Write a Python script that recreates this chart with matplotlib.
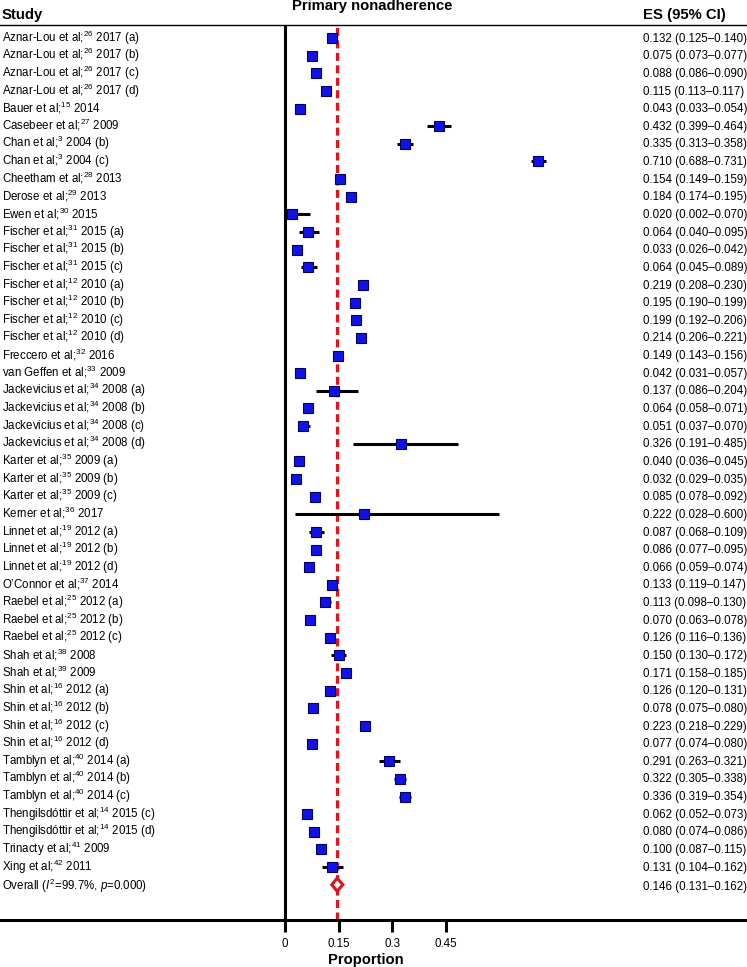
import matplotlib
matplotlib.use("Agg")
import matplotlib.pyplot as plt
import matplotlib.transforms as mtrans
from matplotlib.patches import Polygon

plt.rcParams["font.family"] = ["Liberation Sans", "DejaVu Sans"]
plt.rcParams["mathtext.fontset"] = "custom"
plt.rcParams["mathtext.rm"] = "Liberation Sans"
plt.rcParams["mathtext.it"] = "Liberation Sans:italic"
plt.rcParams["mathtext.bf"] = "Liberation Sans:bold"

# ---------------- data ----------------
authors = [
    "Aznar-Lou et al", "Aznar-Lou et al", "Aznar-Lou et al", "Aznar-Lou et al",
    "Bauer et al", "Casebeer et al", "Chan et al", "Chan et al",
    "Cheetham et al", "Derose et al", "Ewen et al",
    "Fischer et al", "Fischer et al", "Fischer et al",
    "Fischer et al", "Fischer et al", "Fischer et al", "Fischer et al",
    "Freccero et al", "van Geffen et al",
    "Jackevicius et al", "Jackevicius et al", "Jackevicius et al", "Jackevicius et al",
    "Karter et al", "Karter et al", "Karter et al", "Kerner et al",
    "Linnet et al", "Linnet et al", "Linnet et al", "O\u2019Connor et al",
    "Raebel et al", "Raebel et al", "Raebel et al",
    "Shah et al", "Shah et al",
    "Shin et al", "Shin et al", "Shin et al", "Shin et al",
    "Tamblyn et al", "Tamblyn et al", "Tamblyn et al",
    "Thengilsd\u00f3ttir et al", "Thengilsd\u00f3ttir et al",
    "Trinacty et al", "Xing et al",
]
refs = [26, 26, 26, 26, 15, 27, 3, 3, 28, 29, 30, 31, 31, 31, 12, 12, 12, 12,
        32, 33, 34, 34, 34, 34, 35, 35, 35, 36, 19, 19, 19, 37, 25, 25, 25,
        38, 39, 16, 16, 16, 16, 40, 40, 40, 14, 14, 41, 42]
years = [
    "2017 (a)", "2017 (b)", "2017 (c)", "2017 (d)", "2014", "2009",
    "2004 (b)", "2004 (c)", "2013", "2013", "2015",
    "2015 (a)", "2015 (b)", "2015 (c)",
    "2010 (a)", "2010 (b)", "2010 (c)", "2010 (d)",
    "2016", "2009", "2008 (a)", "2008 (b)", "2008 (c)", "2008 (d)",
    "2009 (a)", "2009 (b)", "2009 (c)", "2017",
    "2012 (a)", "2012 (b)", "2012 (d)", "2014",
    "2012 (a)", "2012 (b)", "2012 (c)", "2008", "2009",
    "2012 (a)", "2012 (b)", "2012 (c)", "2012 (d)",
    "2014 (a)", "2014 (b)", "2014 (c)", "2015 (c)", "2015 (d)", "2009", "2011",
]
es = [0.132, 0.075, 0.088, 0.115, 0.043, 0.432, 0.335, 0.710, 0.154, 0.184,
      0.020, 0.064, 0.033, 0.064, 0.219, 0.195, 0.199, 0.214, 0.149, 0.042,
      0.137, 0.064, 0.051, 0.326, 0.040, 0.032, 0.085, 0.222, 0.087, 0.086,
      0.066, 0.133, 0.113, 0.070, 0.126, 0.150, 0.171, 0.126, 0.078, 0.223,
      0.077, 0.291, 0.322, 0.336, 0.062, 0.080, 0.100, 0.131]
lo = [0.125, 0.073, 0.086, 0.113, 0.033, 0.399, 0.313, 0.688, 0.149, 0.174,
      0.002, 0.040, 0.026, 0.045, 0.208, 0.190, 0.192, 0.206, 0.143, 0.031,
      0.086, 0.058, 0.037, 0.191, 0.036, 0.029, 0.078, 0.028, 0.068, 0.077,
      0.059, 0.119, 0.098, 0.063, 0.116, 0.130, 0.158, 0.120, 0.075, 0.218,
      0.074, 0.263, 0.305, 0.319, 0.052, 0.074, 0.087, 0.104]
hi = [0.140, 0.077, 0.090, 0.117, 0.054, 0.464, 0.358, 0.731, 0.159, 0.195,
      0.070, 0.095, 0.042, 0.089, 0.230, 0.199, 0.206, 0.221, 0.156, 0.057,
      0.204, 0.071, 0.070, 0.485, 0.045, 0.035, 0.092, 0.600, 0.109, 0.095,
      0.074, 0.147, 0.130, 0.078, 0.136, 0.172, 0.185, 0.131, 0.080, 0.229,
      0.080, 0.321, 0.338, 0.354, 0.073, 0.086, 0.115, 0.162]
overall_es, overall_lo, overall_hi = 0.146, 0.131, 0.162
overall_label = r"Overall ($\mathit{I}^{\mathregular{2}}$=99.7%, $\mathit{p}$=0.000)"
xticks = [0, 0.15, 0.3, 0.45]
xticklabels = ["0", "0.15", "0.3", "0.45"]

# ---------------- layout ----------------
W, H = 747, 967
fig = plt.figure(figsize=(W / 100, H / 100), dpi=100)
top_px, bot_px = 25, 920
ax = fig.add_axes([0, 1 - bot_px / H, 1, (bot_px - top_px) / H])
x0px, ppu = 285, 357.0
xmin, xmax = -x0px / ppu, (W - x0px) / ppu
ax.set_xlim(xmin, xmax)
row0, dy = 38.0, 17.64
ax.set_ylim((bot_px - row0) / dy, (top_px - row0) / dy)

for s in ["left", "right"]:
    ax.spines[s].set_visible(False)
ax.spines["top"].set_linewidth(1.0)
ax.spines["bottom"].set_linewidth(2.2)
ax.set_yticks([])
ax.set_xticks(xticks)
ax.set_xticklabels(xticklabels, fontsize=8.3)
ax.tick_params(axis="x", direction="out", length=8.5, width=2.2, pad=4.5)
ax.set_xlabel("Proportion", fontsize=10.7, fontweight="bold")
ax.xaxis.set_label_coords((0.225 - xmin) / (xmax - xmin), -0.037)

ax.axvline(0, color="black", lw=2.2, zorder=3)
ax.axvline(overall_es, color="#e3131b", lw=2.3, dashes=(2.5, 1.4), zorder=2)

n = len(es)
ys = list(range(n))
ax.hlines(ys, lo, hi, color="black", lw=2.2, zorder=4)
ax.plot(es, ys, "s", ms=6.7, mfc="#1212e8", mec="#000060", mew=0.8, zorder=5,
        linestyle="none")

h = 0.37
diamond = Polygon([(overall_lo, n), (overall_es, n - h), (overall_hi, n),
                   (overall_es, n + h)], closed=True, facecolor="white",
                  edgecolor="#e3131b", lw=2.2, zorder=6)
ax.add_patch(diamond)

# ---------------- texts ----------------
tr = mtrans.blended_transform_factory(fig.transFigure, ax.transData)
off = 3.6 / dy
for i in range(n):
    lab = authors[i] + r";$^{\mathregular{" + str(refs[i]) + r"}}$ " + years[i]
    ax.text(2 / W, i + off, lab, transform=tr, fontsize=8.3, va="baseline",
            ha="left")
    ax.text(643 / W, i + off,
            f"{es[i]:.3f} ({lo[i]:.3f}\u2013{hi[i]:.3f})",
            transform=tr, fontsize=8.3, va="baseline", ha="left")
ax.text(2 / W, n + off + 1.2 / dy, overall_label, transform=tr, fontsize=8.3,
        va="baseline", ha="left")
ax.text(643 / W, n + off + 1.2 / dy,
        f"{overall_es:.3f} ({overall_lo:.3f}\u2013{overall_hi:.3f})",
        transform=tr, fontsize=8.3, va="baseline", ha="left")

fig.text(2 / W, 1 - 19.5 / H, "Study", fontsize=10.7, fontweight="bold",
         va="baseline", ha="left")
fig.text(372 / W, 1 - 10 / H, "Primary nonadherence", fontsize=10.7,
         fontweight="bold", va="baseline", ha="center")
fig.text(643 / W, 1 - 19 / H, "ES (95% CI)", fontsize=10.7, fontweight="bold",
         va="baseline", ha="left")

fig.savefig("out.png", dpi=100)
